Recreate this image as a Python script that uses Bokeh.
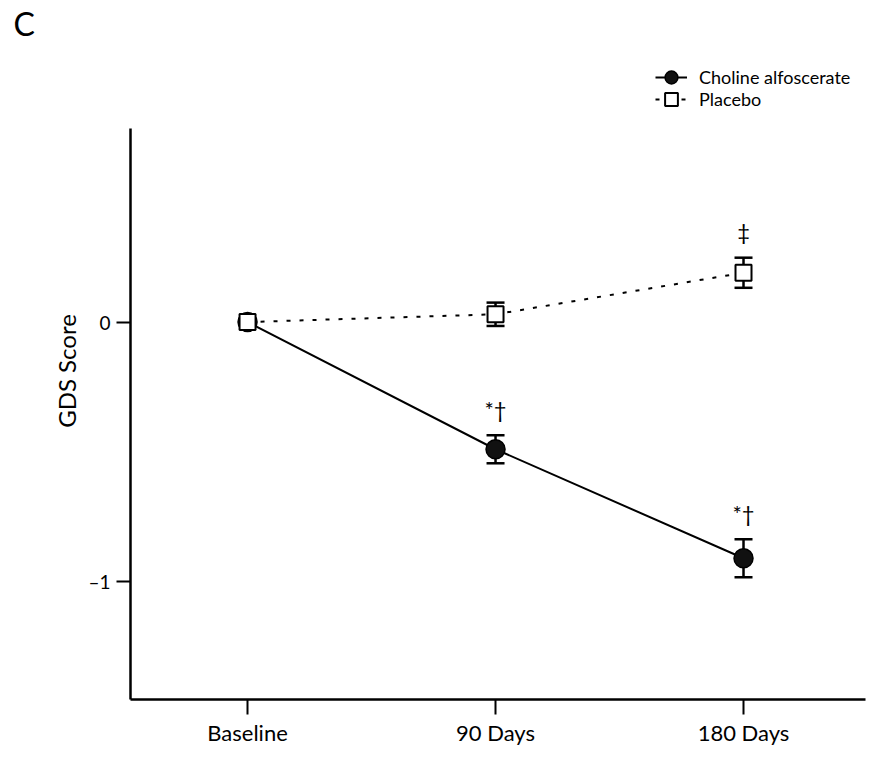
from bokeh.plotting import figure
from bokeh.models import (Whisker, ColumnDataSource, Legend, LegendItem,
                          FixedTicker, TeeHead)
from bokeh.embed import file_html
from bokeh.resources import INLINE
from bokeh.core.properties import value

# ---- data (GDS score change from baseline) ----
categories = ["Baseline", "90 Days", "180 Days"]
cat_pos = [0, 1, 2]
choline_mean = [0.0, -0.49, -0.91]
choline_err = [0.0, 0.054, 0.073]
placebo_mean = [0.0, 0.03, 0.19]
placebo_err = [0.0, 0.045, 0.058]
choline_marks = ["", "*†", "*†"]
placebo_marks = ["", "", "‡"]
y_ticks = [0, -1]
y_tick_labels = ["0", "–1"]
series_names = ["Choline alfoscerate", "Placebo"]
y_axis_top = 0.746
x_axis_end = 2.49

FONT = "Lato"

p = figure(width=867, height=748, output_backend="svg", toolbar_location=None,
           x_range=(-0.472, 2.5), y_range=(-1.454, 1.077),
           min_border_left=130, min_border_right=0, min_border_top=42,
           min_border_bottom=48)
p.outline_line_color = None
p.xgrid.visible = False
p.ygrid.visible = False
p.background_fill_color = "white"
p.border_fill_color = "white"

# panel letter as title
p.title.text = "C"
p.title.align = "left"
p.title.offset = -117
p.title.standoff = 0
p.title.text_font = FONT
p.title.text_font_size = "32px"
p.title.text_font_style = "normal"
p.title.text_color = "black"

# axes
p.xaxis.ticker = FixedTicker(ticks=cat_pos)
p.xaxis.major_label_overrides = {k: v for k, v in zip(cat_pos, categories)}
p.xaxis.bounds = (-0.472, x_axis_end)
p.yaxis.ticker = FixedTicker(ticks=y_ticks)
p.yaxis.major_label_overrides = {k: v for k, v in zip(y_ticks, y_tick_labels)}
p.yaxis.bounds = (-1.454, y_axis_top)
for ax in (p.xaxis[0], p.yaxis[0]):
    ax.axis_line_width = 2.5
    ax.axis_line_color = "black"
    ax.major_tick_line_width = 2
    ax.major_tick_line_color = "black"
    ax.major_tick_in = 0
    ax.minor_tick_line_color = None
    ax.major_label_text_font = FONT
    ax.major_label_text_color = "black"
p.xaxis.major_tick_out = 15
p.xaxis.major_label_standoff = 4
p.xaxis.major_label_text_font_size = "22px"
p.yaxis.major_tick_out = 14
p.yaxis.major_label_standoff = 6
p.yaxis.major_label_text_font_size = "19px"
p.yaxis.axis_label = "GDS Score"
p.yaxis.axis_label_text_font = FONT
p.yaxis.axis_label_text_font_size = "24px"
p.yaxis.axis_label_text_font_style = "normal"
p.yaxis.axis_label_text_color = "black"
p.yaxis.axis_label_standoff = 4

# data sources
up_c = [m + e for m, e in zip(choline_mean, choline_err)]
lo_c = [m - e for m, e in zip(choline_mean, choline_err)]
up_p = [m + e for m, e in zip(placebo_mean, placebo_err)]
lo_p = [m - e for m, e in zip(placebo_mean, placebo_err)]

src_c = ColumnDataSource(dict(x=cat_pos, y=choline_mean, up=up_c, lo=lo_c,
                              mark=choline_marks))
src_p = ColumnDataSource(dict(x=cat_pos, y=placebo_mean, up=up_p, lo=lo_p,
                              mark=placebo_marks))


def err_source(xs, ups, los, errs):
    keep = [i for i, e in enumerate(errs) if e > 0]
    return ColumnDataSource(dict(x=[xs[i] for i in keep],
                                 up=[ups[i] for i in keep],
                                 lo=[los[i] for i in keep]))


for s in (err_source(cat_pos, up_c, lo_c, choline_err),
          err_source(cat_pos, up_p, lo_p, placebo_err)):
    w = Whisker(base="x", upper="up", lower="lo", source=s, dimension="height",
                line_width=2.5, line_color="black",
                upper_head=TeeHead(size=18, line_width=2.5, line_color="black"),
                lower_head=TeeHead(size=18, line_width=2.5, line_color="black"),
                level="underlay")
    p.add_layout(w)

# lines
lc = p.line("x", "y", source=src_c, line_color="black", line_width=2)
lp = p.line("x", "y", source=src_p, line_color="black", line_width=2,
            line_dash="4 9")

# markers
mc = p.scatter("x", "y", source=src_c, marker="circle", size=19,
               fill_color="#111111", line_color="black", line_width=1.5)
mp = p.scatter("x", "y", source=src_p, marker="square", size=16,
               fill_color="white", line_color="black", line_width=2)

# significance marks
for s in (src_c, src_p):
    p.text("x", "up", text="mark", source=s, text_font=value(FONT),
           text_font_size="22px", text_color="black", text_align="center",
           text_baseline="middle", y_offset=-26)

# legend (two single-item legends: larger glyphs with tight rows)
for name, rends, loc in ((series_names[0], [lc, mc], (525, 606)),
                         (series_names[1], [lp, mp], (525, 584))):
    leg = Legend(items=[LegendItem(label=name, renderers=rends)],
                 location=loc, glyph_width=32, glyph_height=32,
                 label_standoff=12, padding=0, margin=0, spacing=0,
                 border_line_alpha=0, background_fill_alpha=0,
                 label_text_font=FONT, label_text_font_size="18px",
                 label_text_color="black")
    p.add_layout(leg)

open("out.html", "w").write(file_html(p, INLINE))
